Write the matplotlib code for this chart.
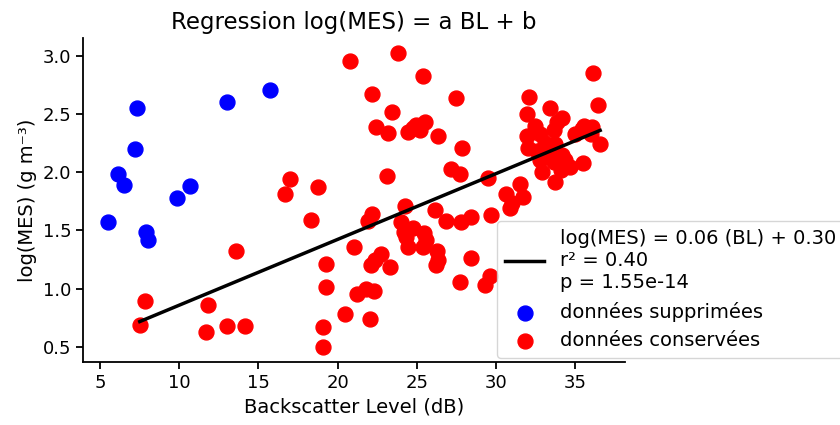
import matplotlib
matplotlib.use("Agg")
import matplotlib.pyplot as plt
import numpy as np

plt.rcParams['font.family'] = ['DejaVu Sans']

# données supprimées (bleu)
bl_sup = [5.47, 6.10, 6.49, 7.23, 7.34, 7.87, 8.02, 9.84, 10.65, 13.0, 15.74]
mes_sup = [1.57, 1.985, 1.89, 2.20, 2.55, 1.49, 1.415, 1.78, 1.88, 2.605, 2.71]

# données conservées (rouge)
bl_cons = [7.5, 7.82, 11.67, 11.84, 13.0, 14.17, 13.56,
           16.66, 17.02, 18.3, 18.76,
           19.07, 19.07, 19.27, 19.27,
           20.5, 20.82, 21.03, 21.2, 21.77, 22.3, 22.07,
           22.09, 22.4, 22.73, 23.3, 21.94, 22.2,
           22.15, 23.47, 22.45, 23.2, 23.15, 23.8,
           24.45, 24.8, 24.96, 25.2, 25.55, 25.42, 26.32, 27.5, 27.84, 27.18, 27.72,
           24.27, 24.04, 24.75, 24.2, 25.48, 24.3, 25.6, 24.43, 25.38,
           26.3, 26.35, 26.2,
           26.18, 26.86, 27.8, 28.45, 29.73,
           28.46, 27.72, 29.65, 29.3,
           29.52, 31.53, 30.68, 31.75, 31.0, 30.9,
           36.17, 36.47, 32.13, 33.4, 32.0, 34.19, 33.87, 32.5, 31.96, 32.8,
           33.66, 35.46, 36.1, 35.03, 36.6, 32.07, 33.1, 33.77, 32.6, 33.45,
           34.19, 32.8, 33.66, 34.4, 35.5, 34.7, 32.9, 34.1, 33.77, 35.57, 36.0]
mes_cons = [0.69, 0.895, 0.63, 0.857, 0.68, 0.675, 1.32,
            1.815, 1.945, 1.59, 1.87,
            0.495, 0.667, 1.01, 1.21,
            0.78, 2.956, 1.36, 0.955, 1.0, 0.98, 0.735,
            1.20, 1.245, 1.30, 1.19, 1.58, 1.64,
            2.67, 2.52, 2.39, 2.335, 1.97, 3.03,
            2.345, 2.38, 2.41, 2.36, 2.43, 2.83, 2.31, 2.635, 2.21, 2.03, 1.99,
            1.71, 1.57, 1.52, 1.49, 1.48, 1.44, 1.42, 1.36, 1.36,
            1.32, 1.25, 1.20,
            1.68, 1.58, 1.57, 1.62, 1.635,
            1.26, 1.055, 1.11, 1.03,
            1.95, 1.90, 1.81, 1.79, 1.74, 1.69,
            2.85, 2.576, 2.65, 2.55, 2.50, 2.47, 2.43, 2.40, 2.31, 2.33,
            2.36, 2.37, 2.386, 2.33, 2.245, 2.21, 2.25, 2.24, 2.18, 2.17,
            2.15, 2.11, 2.09, 2.11, 2.08, 2.05, 2.0, 2.02, 1.92, 2.40, 2.33]

# droite de régression
pente = 0.0565
ordonnee = 0.293
label_reg = "log(MES) = 0.06 (BL) + 0.30\nr² = 0.40\np = 1.55e-14"

fig = plt.figure(figsize=(8.4, 4.25), dpi=100)
ax = fig.add_axes([0.0988, 0.148, 0.645, 0.763])

xr = np.array([min(bl_cons), max(bl_cons)])
ax.plot(xr, pente * xr + ordonnee, color='black', lw=2.5, label=label_reg, zorder=3)
ax.scatter(bl_sup, mes_sup, s=115, color='blue', label='données supprimées', zorder=2)
ax.scatter(bl_cons, mes_cons, s=115, color='red', label='données conservées', zorder=2)

ax.set_title("Regression log(MES) = a BL + b", fontsize=16.5)
ax.set_xlabel("Backscatter Level (dB)", fontsize=14)
ax.set_ylabel("log(MES) (g m⁻³)", fontsize=14)
ax.tick_params(labelsize=13, width=1.3, length=5)
ax.set_xticks([5, 10, 15, 20, 25, 30, 35])
ax.set_yticks([0.5, 1.0, 1.5, 2.0, 2.5, 3.0])
ax.spines['top'].set_visible(False)
ax.spines['right'].set_visible(False)
ax.spines['left'].set_linewidth(1.3)
ax.spines['bottom'].set_linewidth(1.3)

ax.legend(loc='lower left', bbox_to_anchor=(0.765, 0.012), fontsize=14,
          labelspacing=0.5, handlelength=2.0, handletextpad=0.8,
          borderaxespad=0.0, borderpad=0.4)

fig.savefig("out.png", dpi=100)
